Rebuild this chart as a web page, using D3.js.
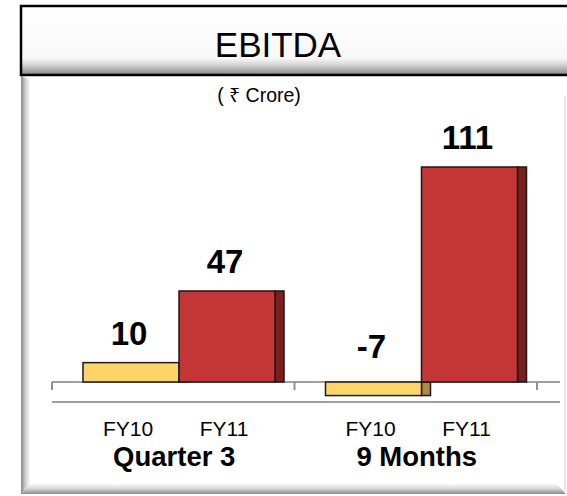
<!DOCTYPE html>
<html>
<head>
<meta charset="utf-8">
<script src="https://cdn.jsdelivr.net/npm/d3@7"></script>
<style>
body{margin:0;background:#fff;}
svg{display:block;font-family:"Liberation Sans",Arial,"Noto Sans","DejaVu Sans",sans-serif;}
</style>
</head>
<body>
<svg id="c" width="567" height="496"></svg>
<script>
const title = "EBITDA";
const unitLabel = "( \u20B9 Crore)";
const groups = ["Quarter 3", "9 Months"];
const seriesNames = ["FY10", "FY11"];
const fy10Values = [10, -7];
const fy11Values = [47, 111];

const svg = d3.select("#c");
const defs = svg.append("defs");

function lin(id, x1, y1, x2, y2, stops) {
  const g = defs.append("linearGradient").attr("id", id)
    .attr("x1", x1).attr("y1", y1).attr("x2", x2).attr("y2", y2);
  stops.forEach(s => g.append("stop").attr("offset", s[0]).attr("stop-color", s[1]));
}
lin("titleG", 0, 0, 0, 1, [[0, "#ffffff"], [0.76, "#f8f8f8"], [0.85, "#d4d4d4"], [1, "#858585"]]);
lin("leftG", 0, 0, 1, 0, [[0, "#8a8a8a"], [0.5, "#d6d6d6"], [1, "#ffffff"]]);
lin("botG", 0, 0, 0, 1, [[0, "#ffffff"], [0.5, "#d8d8d8"], [1, "#8a8a8a"]]);

// Panel bevel
const pL = 21, pR = 566, pT = 76, pB = 494, bev = 10;
svg.append("polygon")
  .attr("points", [[pL, pT], [pL + bev, pT + 4], [pL + bev, pB - bev - 1], [pL, pB]].join(" "))
  .attr("fill", "url(#leftG)");
svg.append("polygon")
  .attr("points", [[pL, pB], [pL + bev, pB - bev - 1], [pR - bev, pB - bev - 1], [pR, pB]].join(" "))
  .attr("fill", "url(#botG)");
svg.append("line").attr("x1", pR - 1).attr("x2", pR - 1).attr("y1", pT + 20).attr("y2", pB - 3)
  .attr("stroke", "#dcdcdc").attr("stroke-width", 1.5);

// Title box
svg.append("rect").attr("x", 21).attr("y", 6).attr("width", 570).attr("height", 69)
  .attr("fill", "url(#titleG)").attr("stroke", "#000").attr("stroke-width", 2.5);
svg.append("text").attr("x", 278).attr("y", 57).attr("text-anchor", "middle")
  .attr("font-size", 35).attr("fill", "#000").text(title);
svg.append("text").attr("x", 259).attr("y", 102).attr("text-anchor", "middle")
  .attr("font-size", 19.5).attr("fill", "#000").text(unitLabel);

// Scales
const x0 = d3.scaleBand().domain(groups).range([52, 537]).padding(0);
const x1 = d3.scaleBand().domain(seriesNames).range([31, 223]).padding(0);
const y = d3.scaleLinear().domain([0, 111]).range([382, 167]);
const depth = 9;

const data = [];
groups.forEach((g, i) => {
  data.push({group: g, series: "FY10", value: fy10Values[i]});
  data.push({group: g, series: "FY11", value: fy11Values[i]});
});
const front = {FY10: "#FFD46A", FY11: "#C43535"};
const side = {FY10: "#B08A45", FY11: "#7A1E1E"};

// lower gray line
svg.append("line").attr("x1", 52).attr("x2", 560).attr("y1", 402).attr("y2", 402)
  .attr("stroke", "#a0a0a0").attr("stroke-width", 2);

// zero axis line with ticks
svg.append("line").attr("x1", 52).attr("x2", 560).attr("y1", y(0)).attr("y2", y(0))
  .attr("stroke", "#a0a0a0").attr("stroke-width", 2);
const tickXs = groups.map(g => x0(g)).concat([x0(groups[groups.length - 1]) + x0.bandwidth()]);
svg.selectAll(".tk").data(tickXs).enter().append("line")
  .attr("x1", d => d).attr("x2", d => d).attr("y1", y(0)).attr("y2", y(0) + 8)
  .attr("stroke", "#909090").attr("stroke-width", 2);

// bars
const bars = svg.append("g");
data.forEach(d => {
  const bx = x0(d.group) + x1(d.series);
  const top = Math.min(y(d.value), y(0));
  const h = Math.abs(y(d.value) - y(0));
  bars.append("rect").attr("x", bx + x1.bandwidth()).attr("y", top).attr("width", depth).attr("height", h)
    .attr("fill", side[d.series]).attr("stroke", "#1a1a1a").attr("stroke-width", 1.5);
  bars.append("rect").attr("x", bx).attr("y", top).attr("width", x1.bandwidth()).attr("height", h)
    .attr("fill", front[d.series]).attr("stroke", "#1a1a1a").attr("stroke-width", 1.5);
});

// value labels
svg.selectAll(".vl").data(data).enter().append("text")
  .attr("x", d => x0(d.group) + x1(d.series) + x1.bandwidth() / 2 - 2)
  .attr("y", d => d.value >= 0 ? y(d.value) - 18 : y(0) - 24)
  .attr("text-anchor", "middle").attr("font-size", 33).attr("font-weight", "bold")
  .attr("fill", "#000").text(d => d.value);

// series tick labels
svg.selectAll(".sl").data(data).enter().append("text")
  .attr("x", d => x0(d.group) + x1(d.series) + x1.bandwidth() / 2 - 3)
  .attr("y", 435.5).attr("text-anchor", "middle").attr("font-size", 21).attr("fill", "#000")
  .text(d => d.series);

// group labels
svg.selectAll(".gl").data(groups).enter().append("text")
  .attr("x", g => x0(g) + x0.bandwidth() / 2 + 1)
  .attr("y", 466).attr("text-anchor", "middle").attr("font-size", 27.5).attr("font-weight", "bold")
  .attr("fill", "#000").text(g => g);
</script>
</body>
</html>
